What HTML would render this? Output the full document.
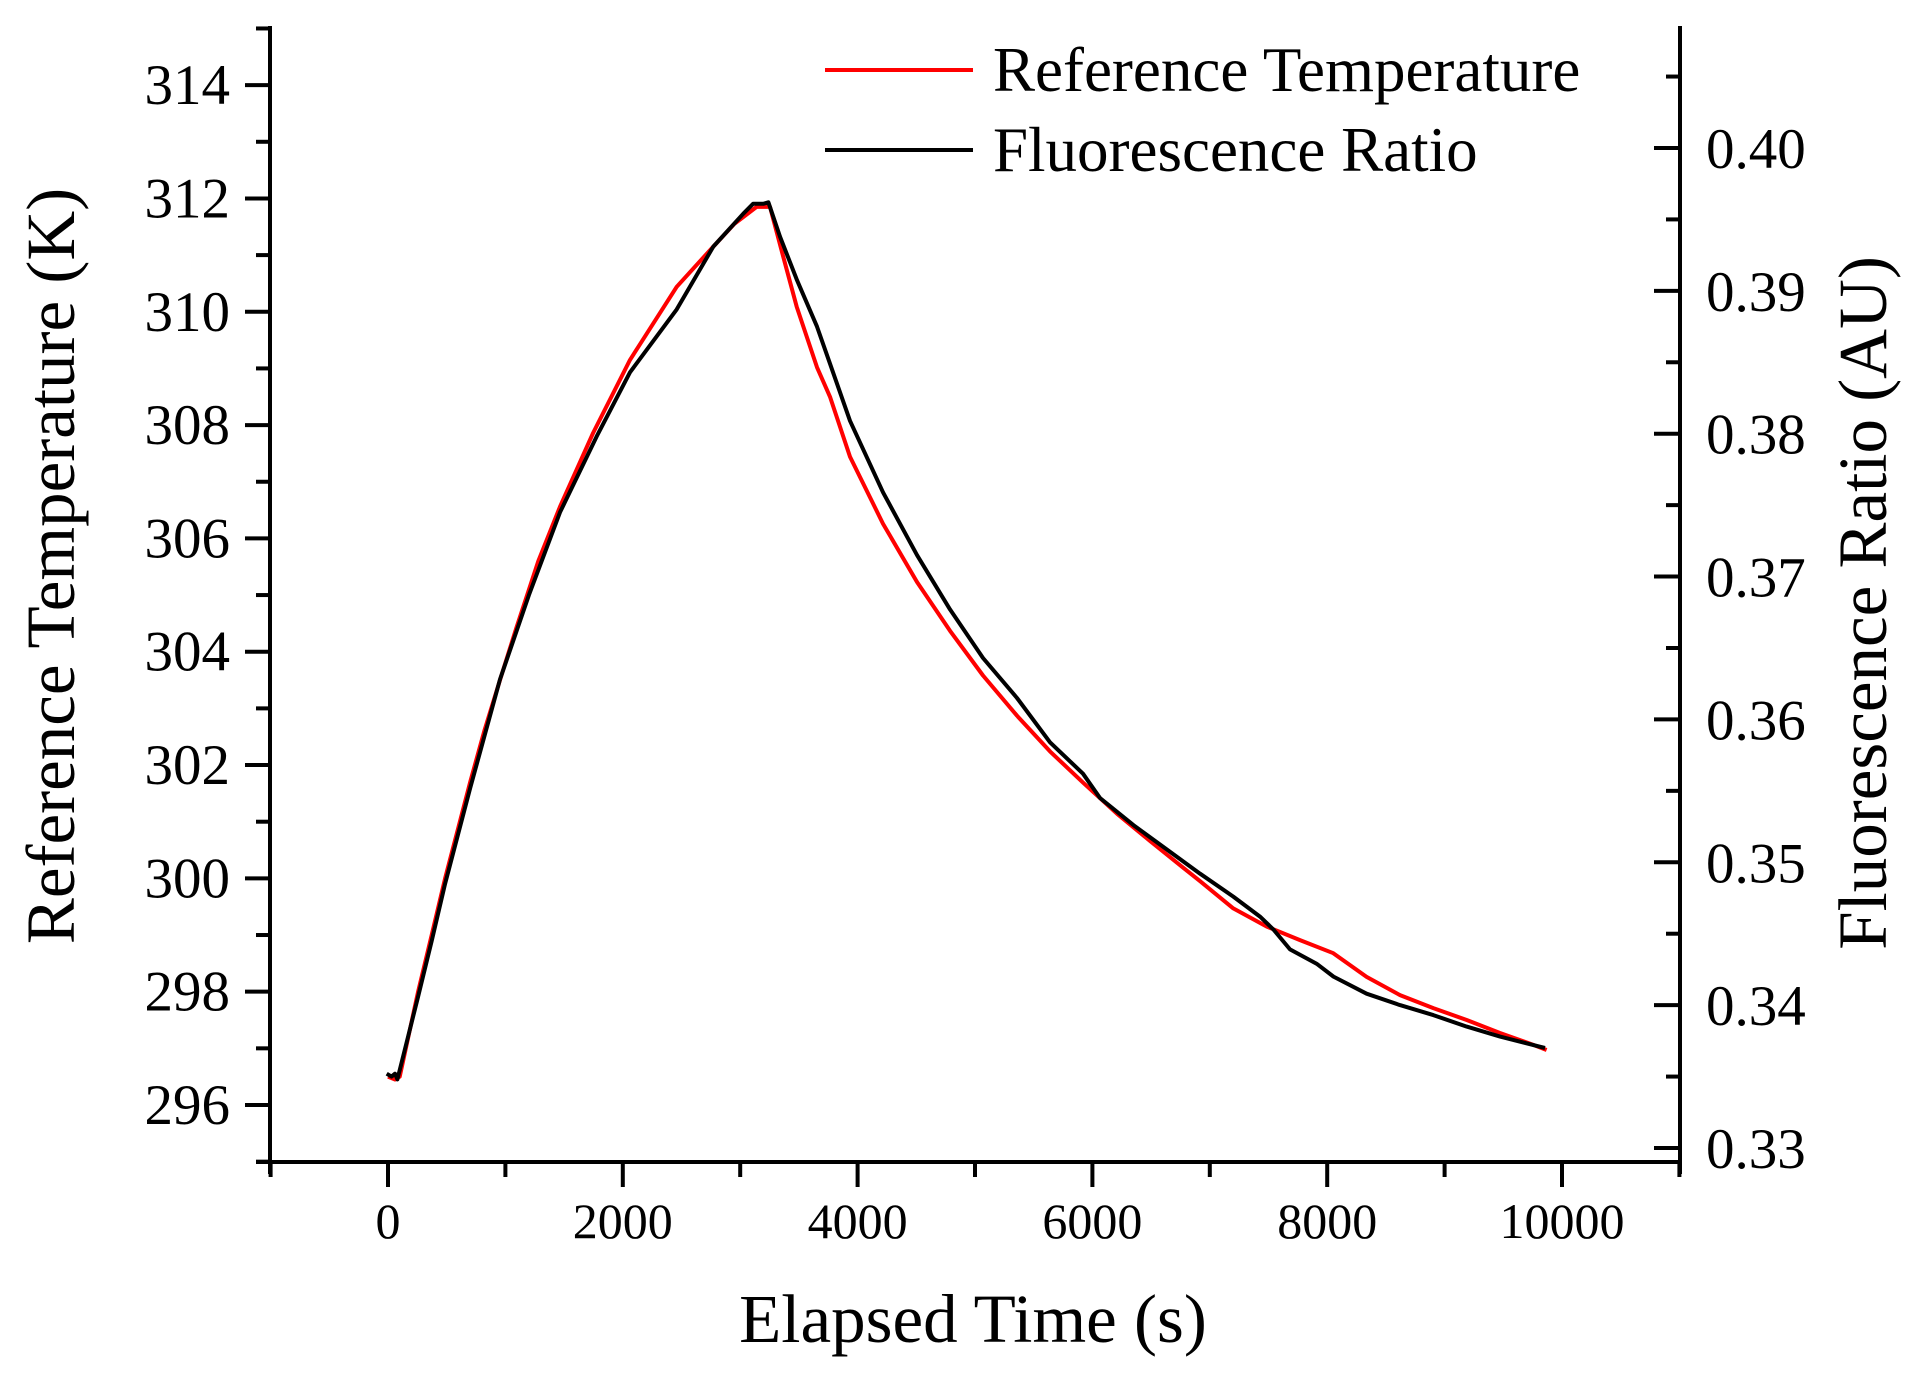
<!DOCTYPE html>
<html><head><meta charset="utf-8"><style>
html,body{margin:0;padding:0;background:#fff;}
svg{display:block;font-family:"Liberation Serif",serif;}
</style></head><body>
<svg id="chart" width="1925" height="1380" viewBox="0 0 1925 1380"></svg>
<script>
// Data
const redTime = [0,60,100,256,372,486,600,700,820,954,1096,1280,1465,1747,2061,2459,2771,2950,3140,3254,3365,3481,3654,3765,3935,4216,4506,4787,5068,5358,5639,5920,6210,6491,6772,6917,7200,7484,7768,8052,8336,8620,8904,9188,9472,9756,9869];
const redTemp = [296.5,296.45,296.5,298.0,299.0,300.0,300.9,301.7,302.6,303.5,304.44,305.6,306.56,307.86,309.15,310.44,311.15,311.55,311.85,311.85,310.98,310.09,309.02,308.5,307.44,306.26,305.23,304.37,303.58,302.87,302.24,301.69,301.14,300.66,300.19,299.95,299.47,299.15,298.91,298.68,298.26,297.94,297.71,297.5,297.27,297.06,296.97];
const blackTime = [-11,30,60,80,256,372,486,700,954,1200,1465,1777,2061,2459,2771,3026,3111,3200,3240,3339,3481,3654,3765,3935,4216,4506,4787,5068,5358,5639,5920,6065,6349,6633,6917,7200,7428,7541,7683,7910,8054,8336,8620,8904,9188,9472,9756,9855];
const blackRatio = [0.3352,0.3350,0.3352,0.3348,0.3406,0.3445,0.3485,0.3552,0.3628,0.3687,0.3745,0.3798,0.3843,0.3887,0.3931,0.3954,0.3961,0.3961,0.3962,0.3938,0.3908,0.3875,0.3849,0.3809,0.3759,0.3715,0.3677,0.3643,0.3615,0.3584,0.3562,0.3545,0.3526,0.3509,0.3492,0.3476,0.3462,0.3453,0.3439,0.3429,0.3420,0.3408,0.3400,0.3393,0.3385,0.3378,0.3372,0.3370];
const xTickLabels = [0,2000,4000,6000,8000,10000];
const yLeftTickLabels = [296,298,300,302,304,306,308,310,312,314];
const yRightTickLabels = ["0.33","0.34","0.35","0.36","0.37","0.38","0.39","0.40"];

const NS = "http://www.w3.org/2000/svg";
const svg = document.getElementById('chart');
const L = 270, R = 1680, T = 28, B = 1162;
const xS = t => 388 + t * 0.1174;
const yL = v => 1105 - (v - 296) * 56.66;
const yR = v => 1148 - (v - 0.33) * 14286;

function mk(tag, attrs, parent) {
  const e = document.createElementNS(NS, tag);
  for (const k in attrs) e.setAttribute(k, attrs[k]);
  (parent || svg).appendChild(e);
  return e;
}

const axes = mk('g', {stroke:'#000','stroke-width':4,fill:'none','stroke-linecap':'square'});


mk('line', {x1:L, y1:T, x2:L, y2:1172}, axes);
mk('line', {x1:R, y1:T, x2:R, y2:1172}, axes);
mk('line', {x1:258, y1:B, x2:R, y2:B}, axes);

for (let t = -1000; t <= 11000; t += 1000) {
  const major = t % 2000 === 0;
  const tk = mk('line', {x1:xS(t), y1:B, x2:xS(t), y2:major?1185:1175}, axes);
  
  
}
xTickLabels.forEach(v => {
  const tx = mk('text', {x:xS(v), y:1238, 'font-size':50, 'text-anchor':'middle', fill:'#000'});
  tx.textContent = v;
  
  
});
for (let v = 295; v <= 315; v += 1) {
  const major = v % 2 === 0;
  const tk = mk('line', {x1:L, y1:yL(v), x2:major?247:258, y2:yL(v)}, axes);
  
  
}
yLeftTickLabels.forEach(v => {
  const tx = mk('text', {x:230, y:yL(v)+19, 'font-size':57, 'text-anchor':'end', fill:'#000'});
  tx.textContent = v;
  
  
});
for (let i = 0; i <= 15; i++) {
  const v = 0.33 + i * 0.005;
  const major = i % 2 === 0;
  const tk = mk('line', {x1:R, y1:yR(v), x2:major?1656:1668, y2:yR(v)}, axes);
  
  
}
yRightTickLabels.forEach(s => {
  const tx = mk('text', {x:1706, y:yR(parseFloat(s))+20, 'font-size':57, fill:'#000'});
  tx.textContent = s;
  
  
});

const redPts = redTime.map((t,i) => xS(t).toFixed(1)+','+yL(redTemp[i]).toFixed(1)).join(' ');
const red = mk('polyline', {points:redPts, fill:'none', stroke:'#ff0000', 'stroke-width':4, 'stroke-linejoin':'round'});


const blackPts = blackTime.map((t,i) => xS(t).toFixed(1)+','+yR(blackRatio[i]).toFixed(1)).join(' ');
const blk = mk('polyline', {points:blackPts, fill:'none', stroke:'#000', 'stroke-width':4, 'stroke-linejoin':'round'});



const yt = mk('text', {transform:'translate(74,566) rotate(-90)', 'font-size':69, 'text-anchor':'middle', fill:'#000'});
yt.textContent = 'Reference Temperature (K)';


const yt2 = mk('text', {transform:'translate(1886,603) rotate(-90)', 'font-size':69, 'text-anchor':'middle', fill:'#000'});
yt2.textContent = 'Fluorescence Ratio (AU)';


const xt = mk('text', {x:973, y:1342, 'font-size':69, 'text-anchor':'middle', fill:'#000'});
xt.textContent = 'Elapsed Time (s)';



const lg = mk('g', {});


const l1 = mk('line', {x1:825, y1:70, x2:973, y2:70, stroke:'#ff0000', 'stroke-width':4}, lg);


const t1 = mk('text', {x:993, y:91, 'font-size':63, fill:'#000'}, lg);
t1.textContent = 'Reference Temperature';


const l2 = mk('line', {x1:825, y1:150, x2:973, y2:150, stroke:'#000', 'stroke-width':4}, lg);


const t2 = mk('text', {x:993, y:171, 'font-size':63, fill:'#000'}, lg);
t2.textContent = 'Fluorescence Ratio';


</script>
</body></html>
